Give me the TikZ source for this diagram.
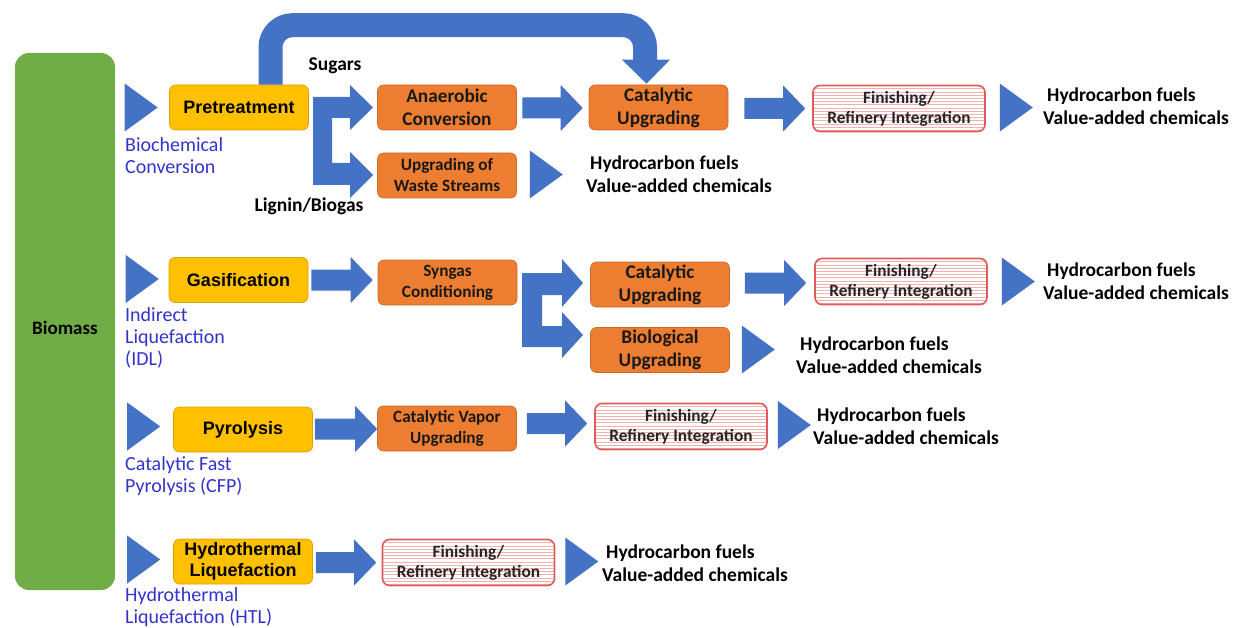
\documentclass[tikz,border=0pt]{standalone}
\usepackage{fontspec}
\setmainfont{Carlito}
\newfontfamily\arialf{Liberation Sans}
\usetikzlibrary{calc}
\definecolor{ablue}{HTML}{4472C4}
\definecolor{bgreen}{HTML}{70AD47}
\definecolor{byellow}{HTML}{FFC000}
\definecolor{borange}{HTML}{ED7D31}
\definecolor{fred}{HTML}{E05A5A}
\definecolor{fstripe}{HTML}{F2B0B0}
\definecolor{lblue}{HTML}{3333CC}
\newcommand\barr[2]{\fill[ablue] let \p1=#1, \p2=#2 in
  (\x1,\y2+10.5pt) -- (\x2-22pt,\y2+10.5pt) -- (\x2-22pt,\y2+23pt) -- (\x2,\y2)
  -- (\x2-22pt,\y2-23pt) -- (\x2-22pt,\y2-10.5pt) -- (\x1,\y2-10.5pt) -- cycle;}
\newcommand\tri[1]{\fill[ablue] let \p1=#1 in
  (\p1) -- (\x1-33pt,\y1+24pt) -- (\x1-33pt,\y1-24pt) -- cycle;}
\tikzset{
  ybox/.style={rectangle, rounded corners=6pt, fill=byellow, draw=byellow!85!black,
    line width=0.6pt, minimum width=139pt, minimum height=45pt, inner sep=0pt,
    font=\arialf\bfseries\fontsize{18}{21.5}\selectfont, align=center, text=black},
  obox/.style={rectangle, rounded corners=6pt, fill=borange, draw=borange!85!black,
    line width=0.6pt, minimum width=139pt, minimum height=45pt, inner sep=0pt,
    font=\bfseries\fontsize{19.3}{23}\selectfont, align=center, text=black!90},
  osmall/.style={obox, font=\bfseries\fontsize{17.2}{21}\selectfont},
  fbox/.style={rectangle, rounded corners=7pt, draw=fred, line width=1.6pt, fill=white,
    minimum width=172pt, minimum height=46pt, inner sep=0pt,
    font=\bfseries\fontsize{17.3}{20}\selectfont, align=center, text=black!85,
    path picture={\foreach \k in {1,...,16}{\draw[fstripe,line width=0.7pt]
      ($(path picture bounding box.north west)+(0pt,-\k*3.2pt)$) -- ++(200pt,0pt);}}},
  outt/.style={font=\bfseries\fontsize{19.5}{23}\selectfont, align=left, anchor=west,
    inner sep=0pt, text=black},
  lab/.style={text=lblue, font=\fontsize{20}{22}\selectfont, align=left, anchor=west,
    inner sep=0pt},
  side/.style={font=\bfseries\fontsize{19.5}{22}\selectfont, inner sep=0pt, text=black}
}
\begin{document}
\begin{tikzpicture}[x=1pt,y=-1pt]
\useasboundingbox (0,0) rectangle (1233,628);
% Biomass
\node[rectangle, rounded corners=14pt, fill=bgreen, minimum width=100pt, minimum height=537pt,
  inner sep=0pt] (bio) at (65,321.5) {};
\node[inner sep=0pt, font=\bfseries\fontsize{19}{22}\selectfont, text=black] (biot) at (65,328) {Biomass};
% Row 1
\node[ybox] (pre) at (239,107.5) {Pretreatment};
\node[obox] (ana) at (447,107.5) {Anaerobic\\Conversion};
\node[osmall] (was) at (447,175.5) {Upgrading of\\Waste Streams};
\node[obox] (cat1) at (658.5,107.5) {Catalytic\\Upgrading};
\node[fbox] (fin1) at (899,108.5) {Finishing/\\Refinery Integration};
\node[outt] (out1) at (1043,106.5) {\hspace{4pt}Hydrocarbon fuels\\Value-added chemicals};
\node[outt] (out1b) at (586,174.5) {\hspace{4pt}Hydrocarbon fuels\\Value-added chemicals};
\node[lab] (lab1) at (125,156) {Biochemical\\Conversion};
\node[side] (sug) at (335,66) {Sugars};
\node[side] (lig) at (309,206) {Lignin/Biogas};
% Row 2
\node[ybox] (gas) at (238.5,280) {Gasification};
\node[osmall] (syn) at (447.5,282.5) {Syngas\\Conditioning};
\node[obox] (cat2) at (660,284.5) {Catalytic\\Upgrading};
\node[obox] (bup) at (660,350) {Biological\\Upgrading};
\node[fbox] (fin2) at (901,281.5) {Finishing/\\Refinery Integration};
\node[outt] (out2) at (1043,281.5) {\hspace{4pt}Hydrocarbon fuels\\Value-added chemicals};
\node[outt] (out2b) at (796,355) {\hspace{4pt}Hydrocarbon fuels\\Value-added chemicals};
\node[lab] (lab2) at (125,338) {Indirect\\Liquefaction\\(IDL)};
% Row 3
\node[ybox] (pyr) at (243,429.5) {Pyrolysis};
\node[osmall] (cvu) at (447,428.5) {Catalytic Vapor\\Upgrading};
\node[fbox] (fin3) at (681,426.5) {Finishing/\\Refinery Integration};
\node[outt] (out3) at (813,426.5) {\hspace{4pt}Hydrocarbon fuels\\Value-added chemicals};
\node[lab] (lab3) at (125,476) {Catalytic Fast\\Pyrolysis (CFP)};
% Row 4
\node[ybox] (htl) at (243,561.5) {Hydrothermal\\Liquefaction};
\node[fbox] (fin4) at (468.5,562.5) {Finishing/\\Refinery Integration};
\node[outt] (out4) at (602,563.5) {\hspace{4pt}Hydrocarbon fuels\\Value-added chemicals};
\node[lab] (lab4) at (125,607.5) {Hydrothermal\\Liquefaction (HTL)};

% bent arrow over the top
\draw[ablue, line width=24pt, rounded corners=22pt]
  ($(pre.north)+(31.5,0)$) |- ($(cat1.north)+(-13.5,-59.5)$) -- ($(cat1.north)+(-13.5,-24)$);
\fill[ablue] ($(cat1.north)+(-36.5,-25)$) -- ($(cat1.north)+(11.5,-25)$) -- ($(cat1.north)+(-12,-1)$) -- cycle;

% split arrows
\fill[ablue] (313,97) -- (350,97) -- (350,85) -- (373,107.5) -- (350,130) -- (350,118) -- (332,118)
  -- (332,163) -- (350,163) -- (350,152) -- (373,175) -- (350,198) -- (350,185) -- (313,185) -- cycle;
\fill[ablue] (522,273) -- (562,273) -- (562,259) -- (583,283) -- (562,307) -- (562,295) -- (542,295)
  -- (542,326) -- (562,326) -- (562,312) -- (583,335) -- (562,358) -- (562,347) -- (522,347) -- cycle;

% block arrows
\barr{($(ana.east)+(5.5,0)$)}{($(cat1.west)+(-6,0.5)$)}
\barr{($(cat1.east)+(16,0)$)}{($(fin1.west)+(-7,0)$)}
\barr{($(gas.east)+(3,0)$)}{($(syn.west)+(-5,-2.5)$)}
\barr{($(cat2.east)+(15,0)$)}{($(fin2.west)+(-8,1.5)$)}
\barr{($(pyr.east)+(2,0)$)}{($(cvu.west)+(0,0.5)$)}
\barr{($(cvu.east)+(10,0)$)}{($(fin3.west)+(-7,-3)$)}
\barr{($(htl.east)+(3,0)$)}{($(fin4.west)+(-5.5,0)$)}

% triangles
\tri{($(pre.west)+(-11.5,0)$)}
\tri{($(was.east)+(46,-1)$)}
\tri{($(fin1.east)+(47,-1)$)}
\tri{($(gas.west)+(-10,-1)$)}
\tri{($(fin2.east)+(47,0)$)}
\tri{($(bup.east)+(45,-0.5)$)}
\tri{($(pyr.west)+(-13,-3)$)}
\tri{($(fin3.east)+(43,-1.5)$)}
\tri{($(htl.west)+(-13,-2)$)}
\tri{($(fin4.east)+(43,-1)$)}
\end{tikzpicture}
\end{document}
